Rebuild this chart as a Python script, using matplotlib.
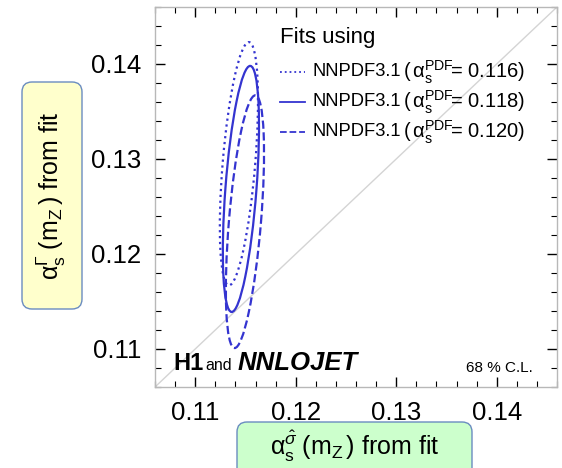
import numpy as np
import matplotlib
matplotlib.use("Agg")
import matplotlib.pyplot as plt
from matplotlib.patches import Ellipse, FancyBboxPatch
from matplotlib.lines import Line2D
from matplotlib.transforms import IdentityTransform
from matplotlib.ticker import MultipleLocator

plt.rcParams["font.family"] = ["Liberation Sans", "DejaVu Sans"]
plt.rcParams["mathtext.fontset"] = "custom"
plt.rcParams["mathtext.rm"] = "Liberation Sans"
plt.rcParams["mathtext.it"] = "Liberation Sans:italic"
plt.rcParams["mathtext.bf"] = "Liberation Sans:bold"

# ---- данные: 68% C.L. контуры фитов ----------------------------------------
pdf_alphas = ["0.116", "0.118", "0.120"]
centre_x = [0.11435, 0.11455, 0.11495]   # alpha_s^sigma (m_Z)
centre_y = [0.1295, 0.12685, 0.1234]     # alpha_s^Gamma (m_Z)
half_x = [0.0019, 0.0018, 0.0019]
half_y = [0.0128, 0.01295, 0.0133]
corr = [0.52, 0.51, 0.54]
styles = [":", "-", "--"]

x_ticks = [0.11, 0.12, 0.13, 0.14]
y_ticks = [0.11, 0.12, 0.13, 0.14]
lim = (0.106, 0.146)

BLUE = "#3434d0"
W, H = 562, 468

fig = plt.figure(figsize=(W / 100, H / 100), dpi=100)
ax = fig.add_axes([155 / W, 1 - 387 / H, 402 / W, 380 / H])
ax.set_xlim(*lim)
ax.set_ylim(*lim)

# диагональ y = x
ax.plot(lim, lim, color="#d4d4d4", lw=1.0, zorder=1)

for cx, cy, hx, hy, r, ls in zip(centre_x, centre_y, half_x, half_y, corr, styles):
    cov = np.array([[hx * hx, r * hx * hy], [r * hx * hy, hy * hy]])
    vals, vecs = np.linalg.eigh(cov)
    ang = np.degrees(np.arctan2(vecs[1, 1], vecs[0, 1]))
    e = Ellipse((cx, cy), 2 * np.sqrt(vals[1]), 2 * np.sqrt(vals[0]), angle=ang,
                fill=False, edgecolor=BLUE, lw=1.6, ls=ls, zorder=3)
    ax.add_patch(e)

ax.xaxis.set_minor_locator(MultipleLocator(0.002))
ax.yaxis.set_minor_locator(MultipleLocator(0.002))
ax.set_xticks(x_ticks)
ax.set_yticks(y_ticks)
ax.set_xticklabels([f"{t:.2f}" for t in x_ticks])
ax.set_yticklabels([f"{t:.2f}" for t in y_ticks])
ax.tick_params(which="both", direction="in", top=True, right=True, colors="black")
ax.tick_params(which="major", length=7, width=1, labelsize=18.5)
ax.tick_params(which="minor", length=4, width=0.8)
ax.tick_params(axis="x", which="major", pad=10)
ax.tick_params(axis="y", which="major", pad=10)
for s in ax.spines.values():
    s.set_color("#b8b8b8")
    s.set_linewidth(1.0)

# --- легенда вручную (как в ROOT): линия + NNPDF3.1 + мелкая скобка ---
fig.text(280 / W, 1 - 38 / H, "Fits using", fontsize=16, ha="left", va="center")
row_y = [72, 102, 132]
for yy, ls, a in zip(row_y, styles, pdf_alphas):
    fy = 1 - yy / H
    fig.add_artist(Line2D([280 / W, 305 / W], [fy, fy], transform=fig.transFigure,
                          color=BLUE, lw=1.3, ls=ls))
    fig.text(312 / W, fy, "NNPDF3.1", fontsize=13.2, ha="left", va="center")
    fig.text(403 / W, fy, r"$(\,{\rm \alpha}_{\rm s}^{\rm PDF}\!$= " + a + ")",
             fontsize=14.5, ha="left", va="center")

ax.text(0.045, 0.045, "H1", transform=ax.transAxes, fontsize=17, fontweight="bold",
        ha="left", va="baseline")
ax.text(0.125, 0.045, "and", transform=ax.transAxes, fontsize=11.5,
        ha="left", va="baseline")
ax.text(0.205, 0.045, "NNLOJET", transform=ax.transAxes, fontsize=18.5,
        fontweight="bold", fontstyle="italic", ha="left", va="baseline")
ax.text(0.94, 0.04, "68 % C.L.", transform=ax.transAxes, fontsize=11,
        ha="right", va="baseline")

# подписи осей в закруглённых рамках (пиксели фигуры)
ybox = FancyBboxPatch((22, H - 309), 60, 227, boxstyle="round,pad=0,rounding_size=10",
                      transform=IdentityTransform(), fc="#ffffcc", ec="#6a8cc0", lw=1)
xbox = FancyBboxPatch((237, -10), 235, H - 422 + 10, boxstyle="round,pad=0,rounding_size=10",
                      transform=IdentityTransform(), fc="#ccffcc", ec="#6a8cc0", lw=1)
fig.patches.extend([ybox, xbox])

fig.text(51 / W, 1 - 196 / H, r"${\rm \alpha}_{\rm s}^{\Gamma}\;(\rm m_{Z}\,)$ from fit",
         rotation=90, fontsize=18, ha="center", va="center")
fig.text(355 / W, 1 - 446 / H, r"${\rm \alpha}_{\rm s}^{\hat{\sigma}}\;(\rm m_{Z}\,)$ from fit",
         fontsize=18, ha="center", va="center")

fig.savefig("out.png", dpi=100)
